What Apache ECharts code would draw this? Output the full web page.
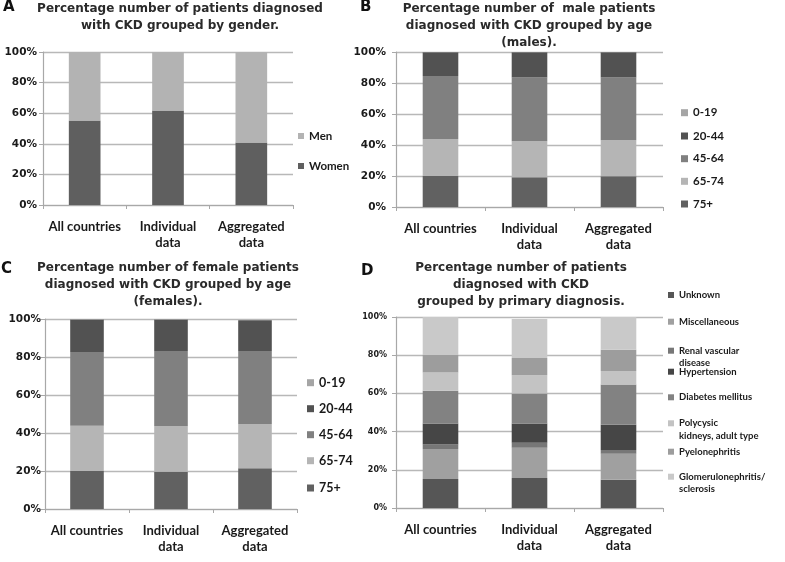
<!DOCTYPE html>
<html><head><meta charset="utf-8">
<script src="https://cdn.jsdelivr.net/npm/echarts@6/dist/echarts.min.js"></script>
<style>html,body{margin:0;padding:0;background:#fff}#c{width:785px;height:562px}</style>
</head><body><div id="c"></div>
<script>
// ---------- DATA ----------
const categories = ['All countries', 'Individual\ndata', 'Aggregated\ndata'];
const yTicks = [0, 20, 40, 60, 80, 100];

// A: gender (stack bottom -> top)
const genderNames = ['Women', 'Men'];
const women = [55.2, 61.7, 40.8];
const men = [44.8, 38.3, 59.2];

// B / C: age groups (stack bottom -> top)
const ageNames = ['75+', '65-74', '45-64', '20-44', '0-19'];
const male75 = [20.0, 19.2, 19.8];
const male6574 = [23.7, 23.2, 23.2];
const male4564 = [40.8, 41.1, 40.5];
const male2044 = [15.3, 16.3, 16.3];
const male019 = [0.2, 0.2, 0.2];
const female75 = [20.0, 19.6, 21.4];
const female6574 = [23.8, 23.9, 23.3];
const female4564 = [38.8, 39.7, 38.5];
const female2044 = [17.2, 16.6, 16.1];
const female019 = [0.2, 0.2, 0.0];

// D: primary diagnosis (stack bottom -> top, legend top -> bottom)
const diagnosisNames = ['Unknown', 'Miscellaneous', 'Renal vascular disease', 'Hypertension',
  'Diabetes mellitus', 'Polycysic kidneys, adult type', 'Pyelonephritis', 'Glomerulonephritis/ sclerosis'];
const dxUnknown = [15.2, 15.7, 14.8];
const dxMisc = [15.7, 15.9, 13.6];
const dxRenal = [2.4, 2.6, 2.0];
const dxHyper = [10.9, 10.0, 13.2];
const dxDiabetes = [17.2, 15.7, 21.0];
const dxPolycystic = [9.5, 9.6, 7.1];
const dxPyelo = [9.2, 9.0, 11.2];
const dxGlomerulo = [19.9, 20.5, 17.1];
const diagnosisWrapped = {
  'Renal vascular disease': ['Renal vascular', 'disease'],
  'Polycysic kidneys, adult type': ['Polycysic', 'kidneys, adult type'],
  'Glomerulonephritis/ sclerosis': ['Glomerulonephritis/', 'sclerosis']
};

// ---------- STYLE ----------
const genderColors = ['#5f5f5f', '#b3b3b3'];
const ageColors = ['#616161', '#b5b5b5', '#808080', '#525252', '#a5a5a5'];
const dxColors = ['#565656', '#a0a0a0', '#777777', '#464646', '#828282', '#c3c3c3', '#9d9d9d', '#c9c9c9'];

const grids = [
  {left: 43, top: 52, width: 250, height: 153},
  {left: 396, top: 52, width: 267, height: 155},
  {left: 45, top: 319, width: 252, height: 190},
  {left: 396, top: 317, width: 267, height: 191}
];
const yLabelSize = [10.5, 10.5, 10.5, 8];
const yLabelMargin = [6, 10, 4, 9];

const chart = echarts.init(document.getElementById('c'), null, {renderer: 'canvas'});

const xAxes = grids.map((g, i) => ({
  type: 'category', gridIndex: i, data: categories,
  axisLine: {lineStyle: {color: '#a8a8a8', width: 1.2}},
  axisTick: {show: true, length: 4, lineStyle: {color: '#a8a8a8'}},
  axisLabel: {fontFamily: 'Lato', fontWeight: 'bold', fontSize: 13, color: '#1a1a1a', lineHeight: 16, margin: 14, interval: 0}
}));
const yAxes = grids.map((g, i) => ({
  type: 'value', gridIndex: i, min: yTicks[0], max: yTicks[yTicks.length - 1], interval: yTicks[1] - yTicks[0],
  axisLine: {show: true, lineStyle: {color: '#a8a8a8', width: 1.2}},
  axisTick: {show: true, length: 4, lineStyle: {color: '#a8a8a8'}},
  splitLine: {lineStyle: {color: '#b8b8b8', width: 1.3}},
  axisLabel: {formatter: '{value}%', fontFamily: 'DejaVu Sans', fontWeight: 'bold', fontSize: yLabelSize[i], color: '#1a1a1a', margin: yLabelMargin[i]}
}));

function bar(name, data, idx, stack, color, bw) {
  return {type: 'bar', name, data, xAxisIndex: idx, yAxisIndex: idx, stack, barWidth: bw,
    itemStyle: {color}, emphasis: {disabled: true}, animation: false};
}

const series = [];
[women, men].forEach((d, k) => series.push(bar(genderNames[k], d, 0, 'A', genderColors[k], '38%')));
[male75, male6574, male4564, male2044, male019].forEach((d, k) => series.push(bar(ageNames[k], d, 1, 'B', ageColors[k], '40%')));
[female75, female6574, female4564, female2044, female019].forEach((d, k) => series.push(bar(ageNames[k], d, 2, 'C', ageColors[k], '40%')));
[dxUnknown, dxMisc, dxRenal, dxHyper, dxDiabetes, dxPolycystic, dxPyelo, dxGlomerulo].forEach((d, k) => series.push(bar(diagnosisNames[k], d, 3, 'D', dxColors[k], '40%')));

// legends: one component per item, positioned to match the reference
const legends = [];
function legendItem(name, x, yc, fs, sw, lines) {
  const lh = fs + 3;
  const nLines = lines ? 3 : 1;
  legends.push({
    data: [name], left: x, top: yc - (lh * nLines) / 2, orient: 'vertical', padding: 0,
    selectedMode: false, icon: 'rect', itemWidth: sw, itemHeight: sw,
    formatter: lines ? () => '\n' + lines.join('\n') : undefined,
    textStyle: {fontFamily: 'Lato', fontWeight: 'bold', fontSize: fs, lineHeight: lh, color: '#1a1a1a'}
  });
}
const legA = ['Men', 'Women'], legAy = [136, 166];
legA.forEach((n, k) => legendItem(n, 298, legAy[k], 11.5, 6));
const legAge = ['0-19', '20-44', '45-64', '65-74', '75+'];
const legBy = [112.7, 136, 158.7, 181.3, 204];
legAge.forEach((n, k) => legendItem(n, 681, legBy[k], 11.5, 7));
const legCy = [382.7, 408.7, 434.7, 460.7, 488];
legAge.forEach((n, k) => legendItem(n, 307, legCy[k], 12.5, 7));
const legDy = [295, 321.7, 350.7, 371.7, 397.3, 423.3, 451.7, 476.7];
diagnosisNames.forEach((n, k) => legendItem(n, 668, legDy[k], 9.5, 6, diagnosisWrapped[n]));

const titleStyle = {fontFamily: 'DejaVu Sans', fontWeight: 'bold', fontSize: 12, lineHeight: 17, color: '#2a2a2a'};
const letterStyle = {fontFamily: 'DejaVu Sans', fontWeight: 'bold', fontSize: 15, color: '#111'};
const titles = [
  {text: 'Percentage number of patients diagnosed\nwith CKD grouped by gender.', left: 180, top: 0, textAlign: 'center', padding: 0, textStyle: titleStyle},
  {text: 'Percentage number of  male patients\ndiagnosed with CKD grouped by age\n(males).', left: 529, top: 0, textAlign: 'center', padding: 0, textStyle: titleStyle},
  {text: 'Percentage number of female patients\ndiagnosed with CKD grouped by age\n(females).', left: 168, top: 259, textAlign: 'center', padding: 0, textStyle: titleStyle},
  {text: 'Percentage number of patients\ndiagnosed with CKD\ngrouped by primary diagnosis.', left: 521, top: 259, textAlign: 'center', padding: 0, textStyle: titleStyle},
  {text: 'A', left: 3, top: 0, padding: 0, textStyle: letterStyle},
  {text: 'B', left: 360, top: 0, padding: 0, textStyle: letterStyle},
  {text: 'C', left: 1, top: 262, padding: 0, textStyle: letterStyle},
  {text: 'D', left: 361, top: 264, padding: 0, textStyle: letterStyle}
];

chart.setOption({
  animation: false,
  backgroundColor: '#fff',
  title: titles,
  grid: grids,
  xAxis: xAxes,
  yAxis: yAxes,
  legend: legends,
  series
});
</script></body></html>
